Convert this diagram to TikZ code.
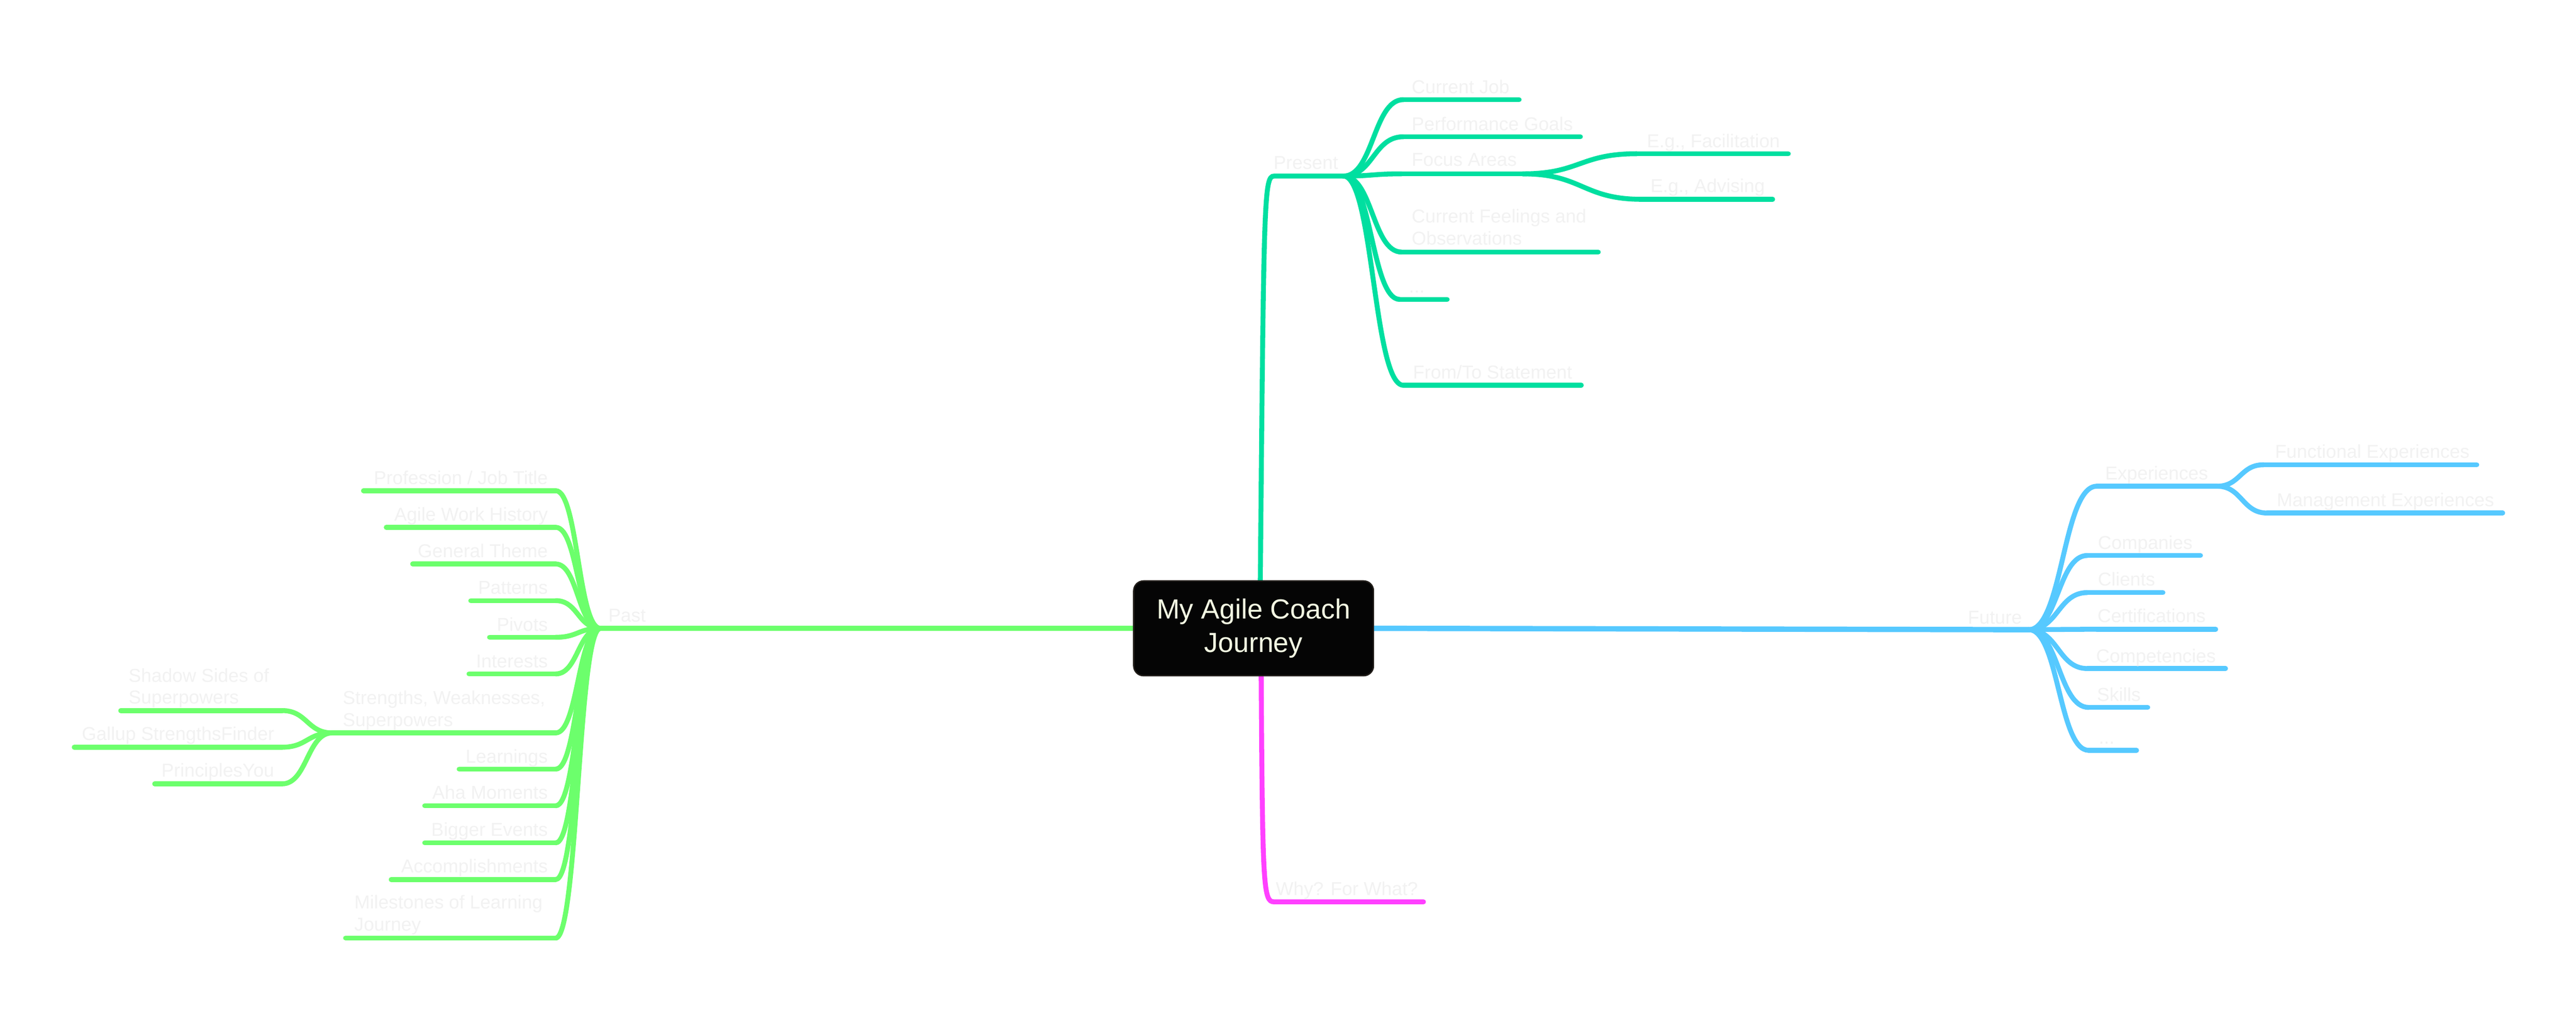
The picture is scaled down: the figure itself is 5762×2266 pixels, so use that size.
\documentclass[tikz,border=0pt]{standalone}
\usepackage{fontspec}
\setmainfont{Liberation Sans}
\usetikzlibrary{calc,backgrounds}
\definecolor{cPres}{HTML}{00DFA0}
\definecolor{cPast}{HTML}{6CFF6C}
\definecolor{cFut}{HTML}{56C9FF}
\definecolor{cWhy}{HTML}{FF40FF}
\definecolor{cTxt}{HTML}{F2F2F2}
\definecolor{cRoot}{HTML}{050505}
\definecolor{cRootEdge}{HTML}{221E1A}
\definecolor{cRootTxt}{HTML}{F4FAE3}
% S-shaped branch: horizontal at both ends
\newcommand\mmfork[3]{\draw[#1] (#2) .. controls ($(#2)!0.5!(#3 |- #2)$) and ($(#3)!0.5!(#2 |- #3)$) .. (#3);}
\tikzset{
  twig/.style={line width=0.11cm, line cap=round},
  uline/.style={line width=0.11cm, line cap=round},
  trunk/.style={line width=0.12cm, line cap=round},
  lbl/.style={inner sep=0, text=cTxt, font=\fontsize{11.9pt}{14.3pt}\selectfont},
  rootbox/.style={draw=cRootEdge, line width=0.03cm, fill=cRoot, rounded corners=0.22cm,
    minimum width=5.36cm, minimum height=2.12cm, inner sep=0, text=cRootTxt, align=center,
    font=\fontsize{17.6pt}{21.5pt}\selectfont}
}
\begin{document}
\begin{tikzpicture}[x=0.01cm, y=-0.01cm]
\useasboundingbox (0,0) rectangle (5762,2266);

\node[rootbox] (root) at (2804,1406) {My Agile Coach\\Journey};

% ---------------- PRESENT ----------------
\coordinate (pres) at (2850,394);
\coordinate (pO) at (3005,394);
\coordinate (cjS) at (3139,223);  \coordinate (cjE) at (3398,223);
\coordinate (pgS) at (3139,306);  \coordinate (pgE) at (3535,306);
\coordinate (faS) at (3135,389);  \coordinate (faE) at (3406,389);
\coordinate (efS) at (3661,344);  \coordinate (efE) at (4000,344);
\coordinate (eaS) at (3673,446);  \coordinate (eaE) at (3965,446);
\coordinate (cfS) at (3135,564);  \coordinate (cfE) at (3575,564);
\coordinate (pdS) at (3131,670);  \coordinate (pdE) at (3237,670);
\coordinate (ftS) at (3139,862);  \coordinate (ftE) at (3537,862);

% ---------------- PAST ----------------
\coordinate (pastO) at (1343,1406);
\coordinate (profR) at (1243,1098); \coordinate (profL) at (813,1098);
\coordinate (awhR) at (1243,1180);  \coordinate (awhL) at (864,1180);
\coordinate (gtR) at (1243,1262);   \coordinate (gtL) at (923,1262);
\coordinate (patR) at (1243,1344);  \coordinate (patL) at (1053,1344);
\coordinate (pivR) at (1243,1426);  \coordinate (pivL) at (1095,1426);
\coordinate (intR) at (1243,1508);  \coordinate (intL) at (1049,1508);
\coordinate (swpR) at (1243,1640);  \coordinate (swpL) at (743,1640);
\coordinate (sspR) at (631,1590);   \coordinate (sspL) at (270,1590);
\coordinate (gsfR) at (631,1672);   \coordinate (gsfL) at (166,1672);
\coordinate (pyR) at (631,1754);    \coordinate (pyL) at (346,1754);
\coordinate (lrnR) at (1243,1721);  \coordinate (lrnL) at (1027,1721);
\coordinate (ahaR) at (1243,1803);  \coordinate (ahaL) at (950,1803);
\coordinate (beR) at (1243,1886);   \coordinate (beL) at (950,1886);
\coordinate (accR) at (1243,1968);  \coordinate (accL) at (875,1968);
\coordinate (mljR) at (1243,2099);  \coordinate (mljL) at (773,2099);

% ---------------- FUTURE ----------------
\coordinate (futO) at (4538,1409);
\coordinate (expS) at (4690,1088);  \coordinate (expE) at (4959,1088);
\coordinate (feS) at (5063,1040);   \coordinate (feE) at (5540,1040);
\coordinate (meS) at (5071,1148);   \coordinate (meE) at (5598,1148);
\coordinate (comS) at (4669,1243);  \coordinate (comE) at (4922,1243);
\coordinate (cliS) at (4669,1326);  \coordinate (cliE) at (4838,1326);
\coordinate (cerS) at (4690,1408);  \coordinate (cerE) at (4956,1408);
\coordinate (cmpS) at (4669,1496);  \coordinate (cmpE) at (4978,1496);
\coordinate (skS) at (4672,1583);   \coordinate (skE) at (4804,1583);
\coordinate (fdS) at (4672,1679);   \coordinate (fdE) at (4779,1679);

% ---------------- WHY ----------------
\coordinate (whyS) at (2850,2018);  \coordinate (whyE) at (3184,2018);

\begin{scope}[on background layer]
  \fill[white] (0,0) rectangle (5762,2266);
  % present
  \draw[line width=0.11cm, line cap=round, cPres] ([xshift=0.15cm]root.north) .. controls (2827,440) and (2827,394) .. (pres) -- (pO);
  \foreach \k in {cj,pg,fa,cf,pd,ft}{
    \mmfork{twig,cPres}{pO}{\k S} \draw[uline,cPres] (\k S) -- (\k E);
  }
  \mmfork{twig,cPres}{faE}{efS} \draw[uline,cPres] (efS) -- (efE);
  \mmfork{twig,cPres}{faE}{eaS} \draw[uline,cPres] (eaS) -- (eaE);
  % past
  \draw[trunk,cPast] (root.west) -- (pastO);
  \foreach \k in {prof,awh,gt,pat,piv,int,swp,lrn,aha,be,acc,mlj}{
    \mmfork{twig,cPast}{pastO}{\k R} \draw[uline,cPast] (\k R) -- (\k L);
  }
  \foreach \k in {ssp,gsf,py}{
    \mmfork{twig,cPast}{swpL}{\k R} \draw[uline,cPast] (\k R) -- (\k L);
  }
  % future
  \draw[trunk,cFut] (root.east) -- (futO);
  \foreach \k in {exp,com,cli,cer,cmp,sk,fd}{
    \mmfork{twig,cFut}{futO}{\k S} \draw[uline,cFut] (\k S) -- (\k E);
  }
  \mmfork{twig,cFut}{expE}{feS} \draw[uline,cFut] (feS) -- (feE);
  \mmfork{twig,cFut}{expE}{meS} \draw[uline,cFut] (meS) -- (meE);
  % why
  \draw[line width=0.11cm, line cap=round, cWhy] ([xshift=0.17cm]root.south) .. controls (2824,1990) and (2826,2018) .. (whyS) -- (whyE);
\end{scope}

% ---------------- LABELS ----------------
\node[lbl,anchor=base west] (tPres) at (2848,378) {Present};
\node[lbl,anchor=base west] (tCj) at (3157,209) {Current Job};
\node[lbl,anchor=base west] (tPg) at (3157,292) {Performance Goals};
\node[lbl,anchor=base west] (tFa) at (3157,372) {Focus Areas};
\node[lbl,anchor=base west] (tEf) at (3683,330) {E.g., Facilitation};
\node[lbl,anchor=base west] (tEa) at (3691,430) {E.g., Advising};
\node[lbl,anchor=base west] (tCf1) at (3157,498) {Current Feelings and};
\node[lbl,anchor=base west] (tCf2) at (3157,548) {Observations};
\node[lbl,anchor=base west] (tPd) at (3151,655) {...};
\node[lbl,anchor=base west] (tFt) at (3160,847) {From/To Statement};

\node[lbl,anchor=base west] (tPast) at (1360,1391) {Past};
\node[lbl,anchor=base east] (tProf) at (1226,1084) {Profession / Job Title};
\node[lbl,anchor=base east] (tAwh) at (1226,1166) {Agile Work History};
\node[lbl,anchor=base east] (tGt) at (1226,1247) {General Theme};
\node[lbl,anchor=base east] (tPat) at (1226,1329) {Patterns};
\node[lbl,anchor=base east] (tPiv) at (1226,1412) {Pivots};
\node[lbl,anchor=base east] (tInt) at (1226,1494) {Interests};
\node[lbl,anchor=base west] (tSwp1) at (766,1576) {Strengths, Weaknesses,};
\node[lbl,anchor=base west] (tSwp2) at (766,1625) {Superpowers};
\node[lbl,anchor=base west] (tSsp1) at (287,1526) {Shadow Sides of};
\node[lbl,anchor=base west] (tSsp2) at (287,1575) {Superpowers};
\node[lbl,anchor=base east] (tGsf) at (614,1657) {Gallup StrengthsFinder};
\node[lbl,anchor=base east] (tPy) at (614,1738) {PrinciplesYou};
\node[lbl,anchor=base east] (tLrn) at (1226,1707) {Learnings};
\node[lbl,anchor=base east] (tAha) at (1226,1788) {Aha Moments};
\node[lbl,anchor=base east] (tBe) at (1226,1871) {Bigger Events};
\node[lbl,anchor=base east] (tAcc) at (1226,1953) {Accomplishments};
\node[lbl,anchor=base west] (tMlj1) at (792,2033) {Milestones of Learning};
\node[lbl,anchor=base west] (tMlj2) at (792,2083) {Journey};

\node[lbl,anchor=base west] (tFut) at (4401,1396) {Future};
\node[lbl,anchor=base west] (tExp) at (4708,1073) {Experiences};
\node[lbl,anchor=base west] (tFe) at (5088,1025) {Functional Experiences};
\node[lbl,anchor=base west] (tMe) at (5092,1133) {Management Experiences};
\node[lbl,anchor=base west] (tCom) at (4692,1229) {Companies};
\node[lbl,anchor=base west] (tCli) at (4692,1311) {Clients};
\node[lbl,anchor=base west] (tCer) at (4691,1393) {Certifications};
\node[lbl,anchor=base west] (tCmp) at (4688,1482) {Competencies};
\node[lbl,anchor=base west] (tSk) at (4690,1569) {Skills};
\node[lbl,anchor=base west] (tFd) at (4694,1665) {...};

\node[lbl,anchor=base west] (tWhy) at (2853,2003) {Why? For What?};
\end{tikzpicture}
\end{document}
